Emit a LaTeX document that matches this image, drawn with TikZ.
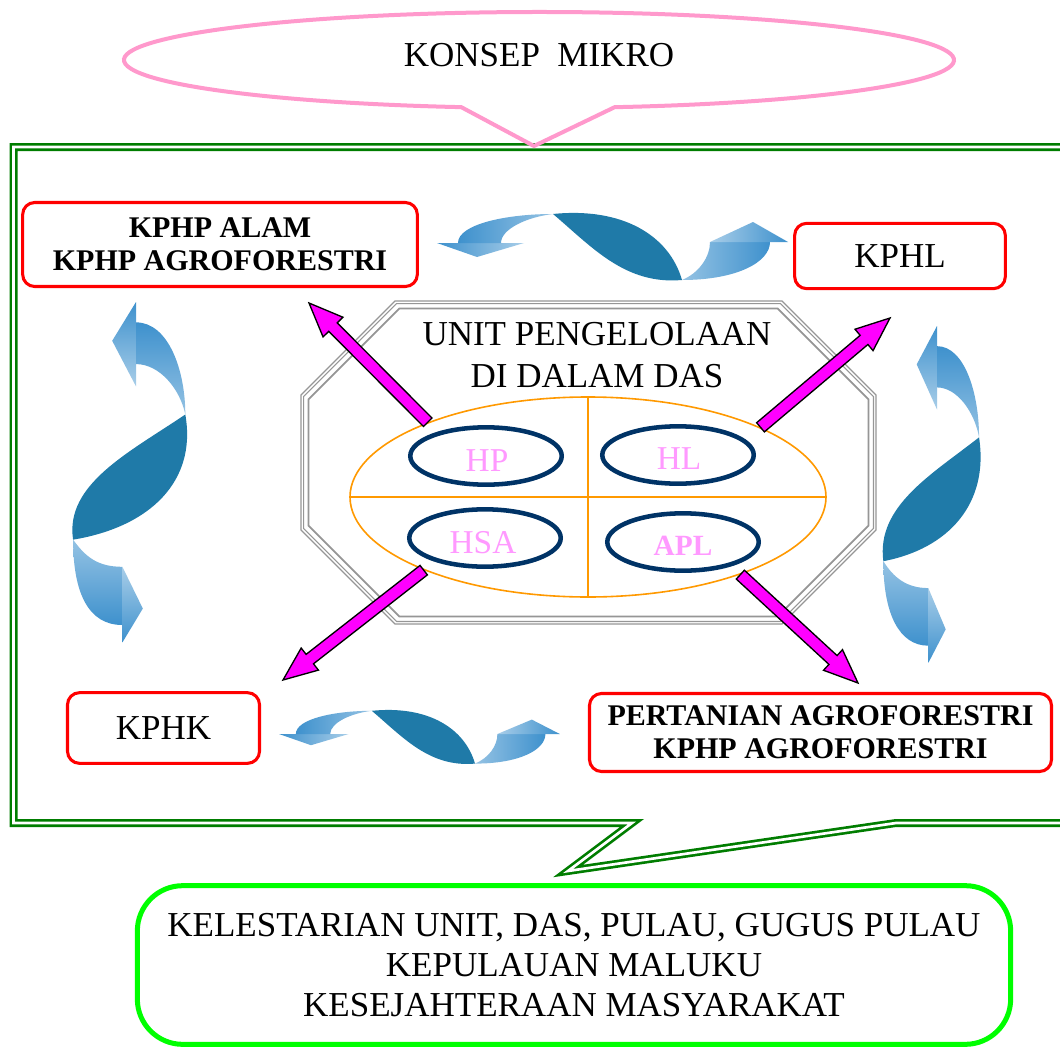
\documentclass[tikz,border=0pt]{standalone}
\usepackage{fontspec}
\setmainfont{Liberation Serif}
\usetikzlibrary{shapes.geometric,calc}

\definecolor{pinkline}{RGB}{255,153,204}
\definecolor{framegreen}{RGB}{0,125,0}
\definecolor{boxred}{RGB}{255,0,0}
\definecolor{brightgreen}{RGB}{0,255,0}
\definecolor{octgray}{RGB}{150,150,150}
\definecolor{zoneorange}{RGB}{255,153,0}
\definecolor{zonenavy}{RGB}{0,51,102}
\definecolor{zonepink}{RGB}{255,153,255}
\definecolor{arrowmagenta}{RGB}{255,0,255}
\definecolor{bdark}{RGB}{31,122,168}
\definecolor{bmid}{RGB}{62,145,205}
\definecolor{blight}{RGB}{232,240,250}

\tikzset{
  frame/.style={draw=framegreen, line width=2pt, double=white, double distance=2pt, line join=miter},
  redbox/.style={draw=boxred, line width=2.3pt, rounded corners=9pt, fill=white, align=center, inner sep=0pt},
  boldtext/.style={font=\fontsize{22.5}{24.5}\selectfont\bfseries},
  plaintext/.style={font=\fontsize{26.25}{30}\selectfont},
  zone/.style={ellipse, draw=zonenavy, line width=3.4pt, minimum width=113.6pt, minimum height=43pt, inner sep=0pt},
  zonelabel/.style={text=zonepink, font=\fontsize{25}{25}\selectfont, inner sep=0pt},
  magarrow/.style={fill=arrowmagenta, draw=black, line width=1pt, line join=miter},
}

% block arrow with an outlined shaft and head, from #1 to #2
\newcommand\blockarrow[2]{%
  \coordinate (ba-h) at ($(#2)!25.5pt!(#1)$);
  \path[magarrow] ($(#1)!4.5pt!90:(#2)$) -- ($(ba-h)!4.5pt!90:(#2)$) -- ($(ba-h)!10.5pt!90:(#2)$)
    -- (#2) -- ($(ba-h)!10.5pt!-90:(#2)$) -- ($(ba-h)!4.5pt!-90:(#2)$) -- ($(#1)!4.5pt!-90:(#2)$) -- cycle;
}

% twisted double-headed ribbon arrow; #1 base of the right head, #2 its height, #3 placement
\newcommand\twistarrow[3]{%
  \begin{scope}[transform canvas={#3}]
    \shade[left color=bmid, right color=bmid!45] (0,0) -- (40,-14) -- (87,0) -- cycle;
    \shade[left color=bmid, middle color=blight, right color=bmid!55]
      (21,0) .. controls (21,19) and (70,29) .. (116,29) .. controls (90,26) and (64,14) .. (64,0) -- cycle;
    \fill[bdark] (116,29) .. controls (185,36) and (232,8) .. (245,-37)
      .. controls (188,-42) and (155,-4) .. (116,29) -- cycle;
    \shade[left color=bmid!55, middle color=blight, right color=bmid]
      (245,-37) .. controls (300,-37) and (333,-20+#1) .. (333,#1) -- (273,#1)
      .. controls (273,-15+#1) and (262,-30) .. (245,-37) -- cycle;
    \shade[left color=bmid!45, right color=bmid] (273,#1) -- (316,#1+#2) -- (351,#1) -- cycle;
  \end{scope}}

\begin{document}
\begin{tikzpicture}[x=0.75pt, y=0.75pt]
\useasboundingbox (0,0) rectangle (1060,-1049);
\clip (0,0) rectangle (1060,-1049);
\fill[white] (0,0) rectangle (1060,-1049);

% green callout frame around the management units
\draw[frame] (13.5,-147) -- (1075,-147) -- (1075,-823) -- (896,-823) -- (568,-871) -- (632,-823) -- (13.5,-823) -- cycle;

% pink speech bubble on top
\draw[pinkline, line width=3pt, line join=miter] (539,-60) ++(280.5:415 and 48)
  arc[start angle=280.5, end angle=619.2, x radius=415, y radius=48] -- (534,-146) -- cycle;
\node[plaintext] (konsep) at (539,-55) {KONSEP\ \ MIKRO};

% management bodies
\node[redbox, boldtext, minimum width=296pt, minimum height=63pt] (kphp) at (220,-244.5) {KPHP ALAM\\KPHP AGROFORESTRI};
\node[redbox, plaintext, minimum width=158pt, minimum height=49pt] (kphl) at (900,-256) {KPHL};
\node[redbox, plaintext, minimum width=144pt, minimum height=53pt] (kphk) at (163.5,-728) {KPHK};
\node[redbox, boldtext, minimum width=346.5pt, minimum height=58.5pt, font=\fontsize{22.5}{24.75}\selectfont\bfseries] (tani) at (820.5,-732.5) {PERTANIAN AGROFORESTRI\\KPHP AGROFORESTRI};

% twisted exchange arrows between the bodies
\twistarrow{1}{20}{shift={(437,-243)}}
\twistarrow{0}{18}{shift={(279,-734)}, xscale=0.8, yscale=0.8}
\twistarrow{-8}{12}{shift={(136,-302)}, rotate=-90, xscale=0.97, yscale=1.7}
\twistarrow{-6}{12}{shift={(937,-326)}, rotate=-90, xscale=0.96, yscale=1.45}

% octagonal frame of the watershed unit
\coordinate (unitcentre) at (588.5,-462.5);
\begin{scope}[shift={(unitcentre)}]
  \foreach \d/\lw in {0/0.9, 2.6/0.9, 7.5/1.3}{
    \pgfmathsetmacro\W{287.5-\d}
    \pgfmathsetmacro\H{161.5-\d}
    \pgfmathsetmacro\C{94-0.41*\d}
    \draw[draw=octgray, line width=\lw pt, line join=miter]
      (-\W+\C,\H) -- (\W-\C,\H) -- (\W,\H-\C) -- (\W,-\H+\C) -- (\W-\C,-\H)
      -- (-\W+\C,-\H) -- (-\W,-\H+\C) -- (-\W,\H-\C) -- cycle;
  }
\end{scope}
\node[plaintext, align=center, font=\fontsize{26.25}{31.5}\selectfont] (unit) at (597,-355) {UNIT PENGELOLAAN\\DI DALAM DAS};

% watershed split into four zones
\node[ellipse, draw=zoneorange, line width=1.2pt, minimum width=357pt, minimum height=150pt, inner sep=0pt] (das) at (588,-497) {};
\draw[zoneorange, line width=1.2pt] (das.north) -- (das.south) (das.west) -- (das.east);

% arrows from the zones to the bodies
\coordinate (tipnw) at (309,-303);
\coordinate (tipne) at (890,-318);
\coordinate (tipsw) at (283,-680);
\coordinate (tipse) at (858,-683);
\blockarrow{das.155}{tipnw}
\blockarrow{das.22}{tipne}
\blockarrow{das.204}{tipsw}
\blockarrow{das.333}{tipse}

\node[zone] (hp) at (486,-456) {};
\node[zone] (hl) at (678,-455) {};
\node[zone] (hsa) at (485,-538) {};
\node[zone] (apl) at (683,-542) {};
\node[zonelabel] (hp-t) at (487,-461) {HP};
\node[zonelabel] (hl-t) at (679,-459) {HL};
\node[zonelabel] (hsa-t) at (483,-543) {HSA};
\node[zonelabel, font=\fontsize{22}{22}\selectfont\bfseries] (apl-t) at (683,-546) {APL};

% outcome box
\node[draw=brightgreen, line width=3.75pt, rounded corners=34pt, minimum width=655pt, minimum height=119pt,
      align=center, plaintext] (goal) at (574,-965)
  {KELESTARIAN UNIT, DAS, PULAU, GUGUS PULAU\\KEPULAUAN MALUKU\\KESEJAHTERAAN MASYARAKAT};
\end{tikzpicture}
\end{document}
